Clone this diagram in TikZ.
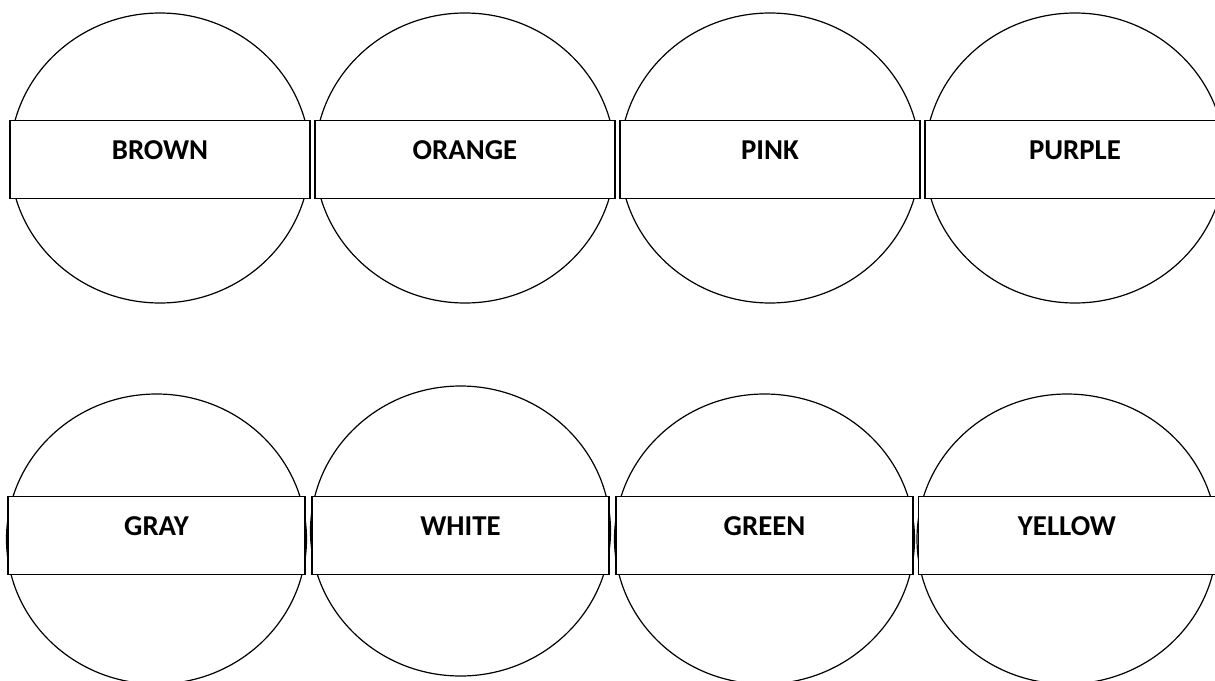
\documentclass[tikz,border=0pt]{standalone}
\usepackage{fontspec}
\setmainfont{Carlito}
\usepackage{tikz}
\usetikzlibrary{shapes.geometric}

\begin{document}
\begin{tikzpicture}[
    x=1pt, y=-1pt,
    disc/.style={
        ellipse,
        draw=black,
        line width=1.2pt,
        fill=white,
        inner sep=0pt,
        minimum width=300pt,
        minimum height=290pt
    },
    band/.style={
        rectangle,
        draw=black,
        line width=1.6pt,
        fill=white,
        inner xsep=0pt,
        inner ysep=1pt,
        text height=38pt,
        text depth=38pt,
        minimum width=#1,
        font=\fontsize{28.8}{34}\selectfont\bfseries,
        align=center
    },
    band/.default=300pt
]

% ---- Page frame ----
\useasboundingbox[fill=white] (0,0) rectangle (1215,680);

% ---- Top row: discs ----
\node[disc] (brownDisc)  at (160,158)  {};
\node[disc] (orangeDisc) at (465,158)  {};
\node[disc] (pinkDisc)   at (770,158)  {};
\node[disc] (purpleDisc) at (1075,158) {};

% ---- Top row: name bands ----
\node[band] (brownBand)  at (brownDisc.center  |- 0,159.5) {BROWN};
\node[band] (orangeBand) at (orangeDisc.center |- 0,159.5) {ORANGE};
\node[band] (pinkBand)   at (pinkDisc.center   |- 0,159.5) {PINK};
\node[band] (purpleBand) at (purpleDisc.center |- 0,159.5) {PURPLE};

% ---- Bottom row: discs ----
\node[disc] (grayDisc)   at (156.5,539) {};
\node[disc] (whiteDisc)  at (460.5,531) {};
\node[disc] (greenDisc)  at (764.5,539) {};
\node[disc] (yellowDisc) at (1067,539)  {};

% ---- Bottom row: name bands ----
\node[band=297pt] (grayBand)   at (grayDisc.center   |- 0,535.5) {GRAY};
\node[band=297pt] (whiteBand)  at (whiteDisc.center  |- 0,535.5) {WHITE};
\node[band=297pt] (greenBand)  at (greenDisc.center  |- 0,535.5) {GREEN};
\node[band=297pt] (yellowBand) at (yellowDisc.center |- 0,535.5) {YELLOW};

\end{tikzpicture}
\end{document}
